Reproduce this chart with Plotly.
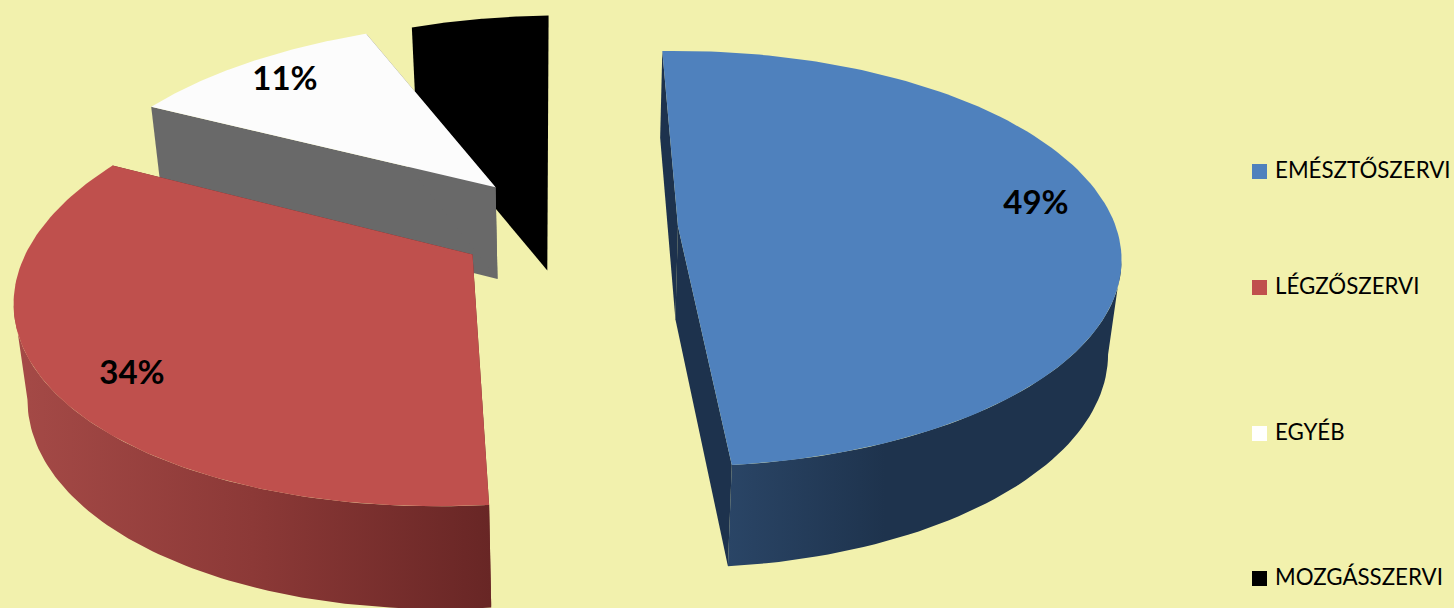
import math
import plotly.graph_objects as go

# ---- data ----
categories = ["EMÉSZTŐSZERVI", "LÉGZŐSZERVI", "EGYÉB", "MOZGÁSSZERVI"]
values = [49, 34, 11, 6]
labels = ["49%", "34%", "11%", ""]

# ---- styles ----
BG = "#F2F1AD"
top_colors = ["#4F81BD", "#BF504D", "#FCFCFC", "#000000"]
legend_colors = ["#4F81BD", "#C0504D", "#FFFFFF", "#000000"]
cut_colors = ["#1D324D", "#6A2727", "#696969", "#000000"]
wall_scales = [
    [[0, "#2A4566"], [0.4, "#1E334D"], [1, "#1E334D"]],
    [[0, "#A54A47"], [0.5, "#8C3937"], [1, "#682625"]],
    None,
    None,
]

# ---- camera and explosion geometry ----
START_ANGLE = -2.0
VX, HORIZON, G, DEPTH, RADIUS = 660.0, -1075.0, 1305.0, 2810.0, 439.0
BOTTOM_VX, BOTTOM_XF, BOTTOM_Y0, BOTTOM_YF = 575.0, 0.0247, 85.0, 0.035
offsets = [(18, 8), (-184, -52), (-170, 95), (-118, 114)]
label_xy = [(1036, 206), (132, 376), (285, 82), None]
legend_x, legend_text_x = 1259.5, 1275
legend_y = [171.5, 287.5, 433.5, 578.5]


def project(wx, wy):
    s = DEPTH / (DEPTH + wy)
    return VX + wx * s, HORIZON + G * s


def bottom(p):
    x, y = p
    return x + (BOTTOM_VX - x) * BOTTOM_XF, y + BOTTOM_Y0 + BOTTOM_YF * y


def rim(off, a0, a1, n=120):
    pts = []
    for i in range(n + 1):
        t = math.radians(a0 + (a1 - a0) * i / n)
        pts.append(project(off[0] + RADIUS * math.sin(t), off[1] + RADIUS * math.cos(t)))
    return pts


def poly(pts, color=None, gradient=None):
    xs = [p[0] for p in pts] + [pts[0][0]]
    ys = [p[1] for p in pts] + [pts[0][1]]
    kw = dict(fillgradient=dict(type="horizontal", colorscale=gradient)) if gradient else dict(fillcolor=color)
    return go.Scatter(x=xs, y=ys, mode="lines", fill="toself", line=dict(width=0),
                      hoverinfo="skip", showlegend=False, **kw)


total = sum(values)
spans = []
a = START_ANGLE
for v in values:
    spans.append((a, a + 360.0 * v / total))
    a += 360.0 * v / total

fig = go.Figure()
# painter's order: back slices first
for i in [3, 2, 0, 1]:
    a0, a1 = spans[i]
    off = offsets[i]
    apex = project(*off)
    arc = rim(off, a0, a1)
    if i == 3:
        # the fully black slice is one outline: rim, bottom of the point, bottom of the left cut
        fig.add_trace(poly(arc + [bottom(apex), bottom(arc[0])], color=top_colors[i]))
        continue
    # cut faces
    for end in (arc[0], arc[-1]):
        fig.add_trace(poly([apex, end, bottom(end), bottom(apex)], color=cut_colors[i]))
    # outer wall: only the part that faces the viewer
    if wall_scales[i]:
        xs = [p[0] for p in arc]
        k = xs.index(max(xs)) if i == 0 else xs.index(min(xs))
        part = arc[k:] if i == 0 else arc[:k + 1]
        fig.add_trace(poly(part + [bottom(p) for p in reversed(part)], gradient=wall_scales[i]))
    fig.add_trace(poly([apex] + arc, color=top_colors[i]))

fig.add_trace(go.Scatter(
    x=[p[0] for p in label_xy if p], y=[p[1] for p in label_xy if p],
    text=[t for t in labels if t], mode="text", textposition="middle center",
    textfont=dict(family="Lato", size=33, color="#000000", weight="bold"),
    hoverinfo="skip", showlegend=False))

fig.add_trace(go.Scatter(
    x=[legend_x] * 4, y=legend_y, mode="markers",
    marker=dict(symbol="square", size=15, color=legend_colors, line=dict(width=0)),
    hoverinfo="skip", showlegend=False))
fig.add_trace(go.Scatter(
    x=[legend_text_x] * 4, y=[v + 1 for v in legend_y], text=categories, mode="text",
    textposition="middle right",
    textfont=dict(family="Lato", size=22.3, color="#000000"),
    hoverinfo="skip", showlegend=False))

fig.update_layout(
    width=1454, height=608, margin=dict(l=0, r=0, t=0, b=0),
    paper_bgcolor=BG, plot_bgcolor=BG,
    xaxis=dict(range=[0, 1454], visible=False, fixedrange=True),
    yaxis=dict(range=[608, 0], visible=False, fixedrange=True),
)
fig.write_html(
    "out.html",
    config={"displayModeBar": False},
    post_script="document.body.style.margin='0';document.body.style.overflow='hidden';"
                "document.documentElement.style.background='" + BG + "';",
)
